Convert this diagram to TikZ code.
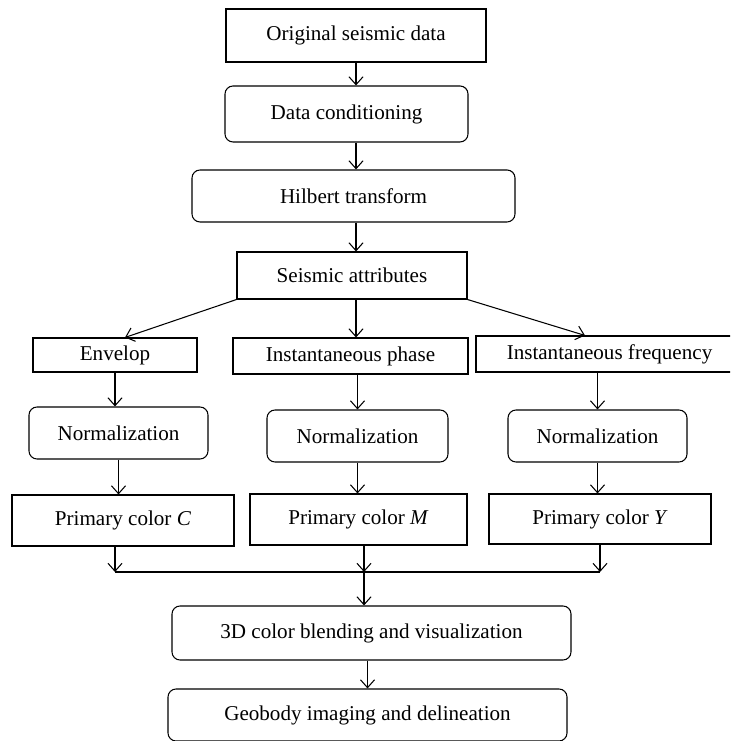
\documentclass[tikz,border=0pt]{standalone}
\usepackage{fontspec}
\setmainfont{Liberation Serif}
\usetikzlibrary{arrows.meta}

\begin{document}
\begin{tikzpicture}
[font=\fontsize{12}{14}\selectfont, draw=black, line width=0.6pt,
>={Straight Barb[length=4.5pt,width=8pt]},
box0/.style={rectangle, draw, inner sep=0pt},
box1/.style={rectangle, draw, rounded corners=1.6mm, inner sep=0pt}]

\clip (0,0) rectangle (14.60,14.82);

\node[box0, minimum width=5.20cm, minimum height=1.06cm] (orig) at (7.12,14.11) {Original seismic data};
\node[box1, minimum width=4.86cm, minimum height=1.12cm] (cond) at (6.93,12.54) {Data conditioning};
\node[box1, minimum width=6.46cm, minimum height=1.04cm] (hilb) at (7.07,10.90) {Hilbert transform};
\node[box0, minimum width=4.60cm, minimum height=0.94cm] (attr) at (7.04,9.31) {Seismic attributes};

\node[box0, minimum width=3.28cm, minimum height=0.68cm] (env) at (2.30,7.72) {Envelop};
\node[box0, minimum width=4.70cm, minimum height=0.72cm] (phase) at (7.01,7.70) {Instantaneous phase};
\node[box0, minimum width=5.34cm, minimum height=0.72cm] (freq) at (12.19,7.74) {Instantaneous frequency};

\node[box1, minimum width=3.58cm, minimum height=1.04cm] (normC) at (2.37,6.16) {Normalization};
\node[box1, minimum width=3.62cm, minimum height=1.04cm] (normM) at (7.15,6.10) {Normalization};
\node[box1, minimum width=3.58cm, minimum height=1.04cm] (normY) at (11.95,6.10) {Normalization};

\node[box0, minimum width=4.44cm, minimum height=1.02cm] (colC) at (2.46,4.41) {Primary color \textit{C}};
\node[box0, minimum width=4.34cm, minimum height=1.02cm] (colM) at (7.17,4.43) {Primary color \textit{M}};
\node[box0, minimum width=4.44cm, minimum height=1.00cm] (colY) at (12.00,4.44) {Primary color \textit{Y}};

\coordinate (mrg) at (7.28,3.38);

\node[box1, minimum width=7.98cm, minimum height=1.08cm] (blend) at (7.43,2.16) {3D color blending and visualization};
\node[box1, minimum width=7.98cm, minimum height=1.04cm] (geo) at (7.35,0.52) {Geobody imaging and delineation};

\draw[->] (orig.south) -- (orig.south |- cond.north);
\draw[->] (cond.south -| orig) -- (orig |- hilb.north);
\draw[->] (hilb.south -| orig) -- (orig |- attr.north);

\draw[->] (attr.south west) -- ([xshift=2mm]env.north);
\draw[->] (attr.south -| orig) -- (orig |- phase.north);
\draw[->] (attr.south east) -- ([xshift=-4.9mm]freq.north);

\draw[->] (env.south) -- (env.south |- normC.north);
\draw[->] (phase.south -| normM) -- (normM.north);
\draw[->] (freq.south -| normY) -- (normY.north);

\draw[->] (normC.south) -- (normC.south |- colC.north);
\draw[->] (normM.south) -- (normM.south |- colM.north);
\draw[->] (normY.south) -- (normY.south |- colY.north);

\draw[->] (env |- colC.south) -- (env |- mrg);
\draw[->] (mrg |- colM.south) -- (mrg);
\draw[->] (colY.south) -- (colY.south |- mrg);
\draw (env |- mrg) -- (colY.south |- mrg);

\draw[->] (mrg) -- (mrg |- blend.north);
\draw[->] (geo.north |- blend.south) -- (geo.north);
\end{tikzpicture}
\end{document}
